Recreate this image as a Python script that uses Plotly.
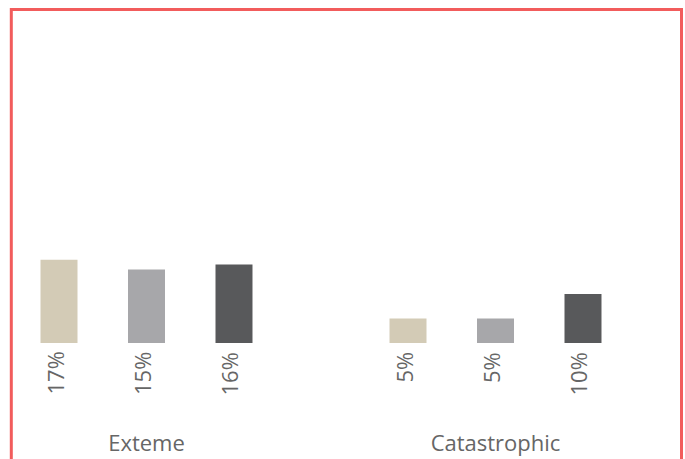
import plotly.graph_objects as go

categories = ["Exteme", "Catastrophic"]
series_names = ["Series A", "Series B", "Series C"]
series_values = [
    [17, 5],
    [15, 5],
    [16, 10],
]
series_colors = ["#D3CBB6", "#A7A7AA", "#58595B"]

W, H = 685, 459
ML, MR, MT, MB = 0, 0, 49, 116
slot = 0.2507
bar_w = 0.106
c0, c1 = 146.5, 495.5
unit = c1 - c0

fig = go.Figure()
annotations = []
for i, (name, vals, col) in enumerate(zip(series_names, series_values, series_colors)):
    xs = [c + (i - 1) * slot for c in range(len(categories))]
    fig.add_trace(go.Bar(x=xs, y=vals, width=bar_w, name=name,
                         marker=dict(color=col, line=dict(width=0)),
                         showlegend=False, hoverinfo="skip"))
    for x, v in zip(xs, vals):
        annotations.append(dict(x=x, y=0, xref="x", yref="y", text=f"{v}%",
                                textangle=-90, showarrow=False, yanchor="top",
                                xanchor="center", yshift=-7, xshift=-5,
                                font=dict(family="Open Sans", size=22, color="#666666")))

ph = H - MT - MB
def py(p):
    return (H - MB - p) / ph
def px(p):
    return (p - ML) / (W - ML - MR)

fig.update_layout(
    width=W, height=H,
    margin=dict(l=ML, r=MR, t=MT, b=MB),
    paper_bgcolor="white", plot_bgcolor="white",
    xaxis=dict(range=[-c0 / unit, 1 + (W - c1) / unit],
               tickmode="array", tickvals=list(range(len(categories))), ticktext=categories,
               showgrid=False, zeroline=False, showline=False, ticks="",
               ticklabelstandoff=85,
               tickfont=dict(family="Open Sans", size=22, color="#666666")),
    yaxis=dict(range=[0, ph / 4.9], visible=False, showgrid=False, zeroline=False),
    annotations=annotations,
    shapes=[dict(type="rect", xref="paper", yref="paper",
                 x0=px(11.3), x1=px(681.5), y0=py(480), y1=py(9.5),
                 line=dict(color="#F25C5C", width=3), fillcolor="rgba(0,0,0,0)")],
)

fig.write_html("out.html", config={"displayModeBar": False},
               post_script="document.body.style.margin='0';document.body.style.overflow='hidden';")
